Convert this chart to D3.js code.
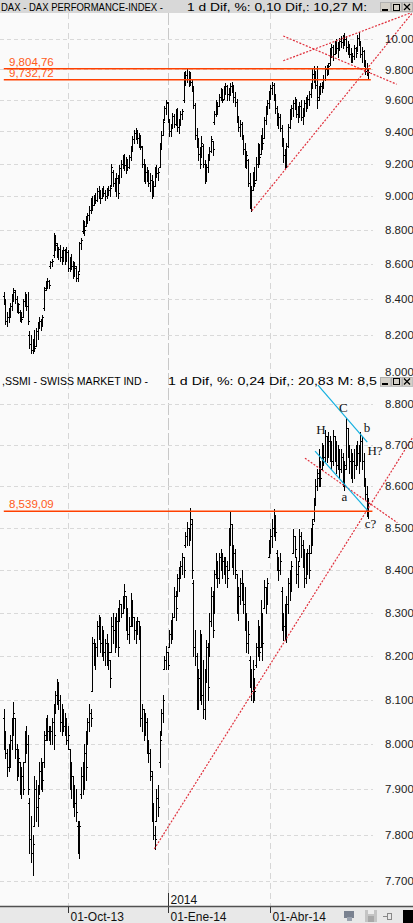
<!DOCTYPE html>
<html>
<head>
<meta charset="utf-8">
<script src="https://cdn.jsdelivr.net/npm/d3@7"></script>
<style>
html,body{margin:0;padding:0;background:#fafafa;}
svg{display:block;}
</style>
</head>
<body>
<svg id="chart" width="413" height="923"></svg>
<script>
// ---- DAX daily bars (open / high / low / close) ----
const daxHigh = [
8440,8400,8330,8350,8380,8430,8460,8450,8420,8380,
8340,8330,8400,8440,8430,8440,8220,8200,8180,8230,
8240,8270,8300,8290,8310,8470,8500,8520,8510,8620,
8630,8780,8770,8720,8700,8710,8680,8700,8690,8700,
8680,8640,8660,8620,8610,8590,8560,8730,8750,8860,
8850,8880,8900,8940,8990,9000,9010,9020,9050,9060,
9040,9050,9060,9040,9050,9060,9070,9200,9160,9110,
9140,9130,9190,9220,9250,9260,9240,9230,9250,9310,
9370,9410,9420,9410,9390,9380,9310,9230,9200,9180,
9160,9140,9130,9090,9180,9190,9170,9330,9400,9480,
9560,9600,9590,9480,9450,9520,9510,9540,9550,9480,
9530,9540,9780,9790,9800,9790,9780,9740,9690,9580,
9420,9360,9300,9370,9320,9220,9200,9260,9300,9370,
9340,9530,9600,9590,9640,9680,9670,9690,9710,9700,
9680,9710,9720,9700,9650,9610,9500,9470,9460,9370,
9330,9280,9230,9140,9060,9150,9180,9240,9330,9320,
9380,9420,9490,9560,9600,9660,9700,9720,9710,9640,
9560,9520,9510,9440,9360,9290,9330,9450,9540,9570,
9600,9620,9610,9560,9590,9600,9550,9600,9620,9630,
9660,9710,9800,9820,9790,9820,9690,9710,9720,9760,
9820,9830,9840,9940,9970,9960,9990,10000,9980,10010,
10020,10030,10045,10020,9990,9970,9940,9910,9960,9950,
10030,10050,9990,9950,9930,9860,9840,9810];
const daxLow = [
8370,8260,8250,8270,8300,8340,8390,8380,8330,8320,
8280,8270,8300,8360,8340,8260,8130,8100,8100,8110,
8140,8180,8240,8230,8250,8340,8450,8460,8460,8580,
8590,8640,8680,8640,8630,8620,8600,8620,8600,8620,
8560,8560,8570,8520,8530,8500,8500,8560,8690,8780,
8770,8820,8840,8860,8900,8920,8950,8960,8970,8990,
8960,8990,9000,8980,8990,9010,9000,9060,9060,9030,
9000,8990,9080,9120,9170,9160,9140,9160,9170,9220,
9280,9330,9350,9330,9300,9290,9180,9090,9080,9090,
9060,9030,8990,9000,9060,9120,9100,9180,9290,9380,
9470,9510,9460,9370,9370,9420,9430,9440,9400,9390,
9440,9480,9590,9700,9720,9690,9700,9660,9550,9350,
9300,9220,9170,9240,9180,9080,9090,9150,9220,9270,
9250,9450,9500,9510,9560,9600,9590,9610,9640,9600,
9600,9630,9650,9590,9560,9460,9400,9370,9350,9260,
9180,9170,9060,8930,8910,9040,9060,9100,9180,9200,
9260,9290,9360,9450,9510,9550,9610,9640,9600,9520,
9440,9420,9400,9310,9210,9170,9180,9300,9420,9480,
9500,9540,9490,9460,9490,9470,9450,9500,9530,9550,
9570,9620,9680,9720,9680,9550,9600,9640,9650,9680,
9730,9760,9770,9830,9880,9860,9900,9910,9880,9930,
9950,9940,9960,9920,9900,9880,9850,9850,9870,9880,
9920,9960,9880,9850,9820,9770,9760,9740];
const daxOpen = [
8420,8390,8280,8300,8340,8360,8410,8440,8400,8350,
8330,8300,8300,8390,8420,8360,8200,8150,8120,8170,
8140,8220,8250,8280,8260,8350,8460,8490,8500,8590,
8610,8650,8700,8710,8660,8690,8640,8660,8680,8630,
8670,8580,8620,8590,8540,8580,8520,8560,8720,8790,
8840,8820,8860,8890,8920,8970,8950,9000,8980,9030,
9010,8990,9040,9020,9000,9030,9040,9060,9150,9080,
9050,9110,9090,9170,9200,9230,9190,9220,9180,9240,
9290,9350,9390,9400,9360,9340,9300,9200,9110,9150,
9120,9080,9100,9010,9060,9160,9140,9180,9310,9380,
9470,9550,9580,9470,9400,9430,9500,9450,9520,9430,
9460,9510,9600,9730,9760,9740,9770,9720,9680,9570,
9380,9330,9260,9240,9310,9200,9120,9180,9230,9280,
9340,9460,9510,9580,9560,9620,9650,9610,9670,9690,
9640,9660,9690,9700,9620,9590,9480,9430,9450,9360,
9290,9200,9220,9080,9000,9040,9120,9100,9200,9300,
9260,9350,9360,9470,9540,9580,9640,9680,9700,9620,
9550,9460,9490,9420,9340,9250,9200,9310,9430,9520,
9550,9580,9600,9510,9540,9560,9490,9530,9580,9600,
9610,9640,9690,9770,9740,9700,9620,9670,9690,9710,
9740,9800,9790,9840,9920,9950,9900,9970,9940,9960,
9990,9980,10010,10000,9950,9930,9900,9870,9890,9940,
9920,10010,9980,9900,9920,9840,9790,9800];
const daxClose = [
8390,8280,8300,8340,8360,8410,8450,8400,8350,8370,
8300,8290,8390,8420,8360,8280,8150,8120,8170,8130,
8220,8240,8280,8260,8300,8450,8490,8500,8480,8610,
8620,8700,8720,8660,8690,8640,8660,8680,8620,8670,
8580,8620,8590,8540,8590,8520,8540,8720,8740,8840,
8800,8860,8890,8920,8970,8950,9000,8980,9030,9010,
8990,9040,9020,9000,9030,9040,9050,9180,9080,9050,
9110,9020,9170,9200,9230,9190,9220,9180,9240,9290,
9350,9390,9400,9360,9340,9310,9200,9110,9150,9120,
9080,9100,9010,9060,9160,9140,9150,9310,9380,9460,
9550,9590,9480,9400,9430,9500,9450,9520,9430,9460,
9510,9530,9730,9760,9740,9770,9720,9690,9570,9380,
9330,9260,9200,9330,9200,9120,9180,9230,9280,9350,
9290,9510,9580,9560,9620,9660,9600,9670,9690,9640,
9660,9690,9700,9620,9590,9480,9430,9450,9380,9290,
9200,9250,9080,9000,9040,9120,9080,9200,9300,9240,
9350,9330,9470,9540,9580,9640,9680,9700,9620,9550,
9460,9490,9420,9340,9250,9200,9310,9430,9520,9550,
9580,9600,9510,9540,9560,9490,9530,9580,9600,9610,
9640,9690,9770,9740,9700,9600,9670,9690,9710,9740,
9800,9790,9820,9920,9950,9900,9970,9940,9960,9990,
9980,10010,10000,9950,9930,9900,9870,9890,9940,9910,
10010,9990,9900,9920,9840,9790,9800,9780];

// ---- SMI daily bars (open / high / low / close) ----
const ssmiHigh = [
8080,8030,7990,8000,8020,8060,8095,8060,8000,7990,
7960,7950,7960,8030,8040,8020,7880,7840,7800,7930,
7920,7910,7960,7970,7960,8030,8060,8065,8040,8040,
8060,8090,8120,8147,8140,8110,8090,8080,8070,8060,
8040,7990,7960,7930,7910,7900,7830,7830,7950,7960,
8000,8030,8060,8090,8080,8245,8240,8230,8280,8295,
8290,8270,8260,8240,8250,8230,8190,8290,8300,8290,
8300,8310,8330,8320,8340,8367,8340,8310,8290,8346,
8330,8290,8280,8290,8280,8270,8090,8080,8070,8060,
8010,7990,7940,7870,7820,7900,7910,8030,8080,8110,
8200,8222,8210,8260,8284,8300,8360,8350,8390,8407,
8420,8440,8430,8490,8514,8500,8546,8520,8377,8260,
8206,8170,8260,8250,8190,8170,8238,8230,8300,8360,
8350,8400,8440,8420,8440,8450,8440,8430,8430,8420,
8500,8537,8510,8460,8450,8390,8360,8380,8400,8370,
8360,8300,8280,8200,8170,8192,8150,8230,8284,8270,
8330,8300,8377,8360,8380,8470,8498,8520,8545,8530,
8447,8430,8440,8360,8300,8320,8340,8380,8400,8420,
8498,8480,8430,8420,8498,8490,8470,8450,8440,8450,
8460,8500,8521,8570,8616,8640,8690,8660,8705,8700,
8736,8720,8730,8720,8710,8736,8720,8710,8700,8690,
8690,8680,8660,8766,8740,8700,8690,8680,8690,8700,
8710,8700,8731,8720,8680,8620,8600,8570];
const ssmiLow = [
7990,7970,7930,7940,7950,7990,8020,7970,7920,7930,
7890,7880,7890,7960,7980,7890,7760,7740,7712,7820,
7830,7820,7890,7900,7895,7950,8010,8010,8010,8000,
8000,7990,8070,8090,8080,8030,8020,8030,8020,8000,
7990,7900,7880,7860,7840,7830,7760,7750,7880,7890,
7900,7920,8000,8030,8040,8120,8180,8170,8200,8240,
8210,8200,8190,8180,8180,8170,8130,8210,8230,8210,
8220,8200,8280,8290,8300,8310,8260,8240,8230,8270,
8270,8240,8230,8250,8240,8040,8030,8010,8020,7980,
7960,7920,7830,7790,7769,7830,7840,7950,8020,8050,
8170,8170,8170,8220,8230,8240,8290,8284,8340,8350,
8380,8390,8384,8455,8460,8460,8471,8380,8200,8180,
8080,8079,8100,8090,8060,8057,8140,8100,8200,8270,
8245,8300,8380,8360,8370,8400,8380,8390,8370,8360,
8400,8460,8407,8390,8380,8300,8284,8320,8330,8300,
8260,8210,8206,8130,8100,8095,8100,8176,8200,8190,
8220,8190,8310,8300,8320,8430,8440,8455,8480,8470,
8400,8377,8390,8260,8238,8240,8233,8300,8330,8350,
8440,8430,8370,8360,8420,8430,8407,8360,8370,8390,
8380,8440,8460,8515,8553,8590,8600,8600,8640,8650,
8660,8657,8670,8660,8640,8650,8660,8630,8640,8620,
8633,8600,8590,8640,8670,8630,8620,8610,8620,8640,
8650,8630,8660,8640,8600,8568,8528,8524];
const ssmiOpen = [
8060,8000,7980,7950,7990,8010,8040,8060,7990,7940,
7960,7910,7930,7960,8010,8000,7870,7790,7760,7820,
7900,7860,7890,7940,7950,7960,8020,8050,8030,8020,
8030,8050,8080,8110,8130,8100,8050,8070,8040,8060,
8010,7990,7910,7930,7880,7870,7820,7800,7890,7930,
7910,7980,8010,8050,8070,8120,8230,8200,8220,8270,
8280,8230,8250,8210,8230,8200,8190,8210,8270,8260,
8240,8280,8290,8320,8300,8330,8340,8280,8250,8270,
8330,8290,8260,8250,8280,8260,8060,8080,8030,8050,
8000,7980,7930,7850,7800,7830,7880,7960,8020,8070,
8170,8190,8210,8220,8250,8270,8290,8340,8340,8380,
8400,8410,8430,8460,8480,8500,8480,8510,8370,8220,
8200,8100,8150,8240,8110,8080,8150,8220,8200,8280,
8340,8300,8390,8420,8380,8430,8410,8420,8400,8410,
8400,8480,8510,8430,8440,8390,8320,8340,8370,8350,
8320,8280,8230,8190,8150,8120,8150,8180,8220,8260,
8220,8300,8310,8360,8330,8430,8460,8480,8500,8530,
8440,8410,8400,8350,8280,8270,8300,8320,8370,8390,
8440,8480,8430,8390,8420,8480,8460,8430,8380,8420,
8440,8440,8490,8520,8560,8600,8620,8670,8640,8690,
8670,8720,8680,8710,8690,8660,8720,8680,8650,8690,
8640,8670,8620,8650,8740,8690,8660,8640,8660,8650,
8690,8680,8660,8710,8660,8610,8580,8540];
const ssmiClose = [
8000,7980,7950,7990,8010,8040,8070,7990,7940,7970,
7910,7930,7900,8010,8000,7900,7790,7760,7780,7900,
7860,7880,7940,7950,7920,8010,8050,8030,8020,8030,
8050,8020,8110,8130,8100,8050,8070,8040,8060,8010,
8020,7910,7930,7880,7870,7850,7800,7820,7930,7910,
7980,7950,8050,8070,8060,8230,8200,8220,8270,8280,
8230,8250,8210,8230,8200,8210,8150,8270,8260,8240,
8280,8220,8320,8300,8330,8350,8280,8250,8270,8330,
8290,8260,8250,8280,8260,8060,8080,8030,8050,8000,
7980,7940,7850,7800,7790,7880,7860,8010,8070,8100,
8190,8210,8180,8250,8270,8290,8340,8310,8380,8400,
8410,8430,8400,8480,8500,8470,8520,8400,8220,8200,
8100,8150,8240,8110,8080,8150,8220,8130,8280,8340,
8260,8390,8420,8380,8430,8410,8420,8400,8410,8380,
8480,8510,8430,8440,8400,8320,8340,8370,8350,8320,
8280,8230,8250,8150,8120,8170,8120,8220,8260,8210,
8300,8230,8360,8330,8370,8460,8480,8500,8530,8490,
8410,8400,8420,8280,8270,8300,8320,8370,8390,8410,
8480,8450,8390,8410,8480,8460,8430,8380,8420,8440,
8400,8490,8510,8560,8600,8630,8670,8620,8690,8670,
8720,8680,8710,8690,8660,8720,8680,8650,8690,8640,
8670,8620,8640,8740,8690,8660,8640,8660,8650,8690,
8680,8660,8710,8660,8620,8580,8540,8560];

// ---- axis ticks and labels ----
const daxTicks = [8000,8200,8400,8600,8800,9000,9200,9400,9600,9800,10000];
const ssmiTicks = [7700,7800,7900,8000,8100,8200,8300,8400,8500,8600,8700,8800];
const dateTickIdx = [40, 102, 166];
const dateTickLabels = ["01-Oct-13", "01-Ene-14", "01-Abr-14"];
const yearLabel = "2014";
const yearIdx = 102;

// ---- reference levels (value) ----
const daxLevels = [9804.76, 9732.72];
const ssmiLevels = [8539.09];

// ---- trend lines: [barIndex, value] endpoints ----
const daxTrends = [
  [[154.4, 8913], [254.8, 10185]],
  [[174.0, 9857], [254.8, 10185]],
  [[174.0, 10022], [244.6, 9703]]
];
const ssmiRedTrends = [
  [[93.7, 7769], [254.8, 8719]],
  [[187.5, 8667], [245.0, 8512]]
];
const ssmiChannel = [
  [[195.6, 8846], [226.3, 8706]],
  [[193.8, 8684], [226.3, 8542]]
];
// wave labels: [text, barIndex, value]
const ssmiWaveLabels = [
  ["C", 211.4, 8791], ["H", 197.5, 8737], ["b", 226.2, 8743],
  ["H?", 231.1, 8685], ["a", 212.1, 8575], ["c?", 228.3, 8510]
];

// ---- titles ----
const daxTitle = ["DAX - DAX PERFORMANCE-INDEX -", "1 d Dif, %: 0,10 Dif,: 10,27 M:"];
const ssmiTitle = [",SSMI - SWISS MARKET IND -", "1 d Dif, %: 0,24 Dif,: 20,83 M: 8,5"];

const FONT = "'Liberation Sans', Arial, sans-serif";
const svg = d3.select("#chart");
const W = 413, Hh = 923;

const x = d3.scaleLinear().domain([0, 227]).range([3.8, 368.4]);
const yDax = d3.scaleLog().domain([8000, 10000]).range([371.8, 39.3]);
const ySsmi = d3.scaleLog().domain([7700, 8800]).range([880.8, 403.8]);

const axisFmt = d3.formatLocale({decimal: ",", thousands: ".", grouping: [3], currency: ["", ""]}).format(",");
const levelFmt = d3.formatLocale({decimal: ",", thousands: ",", grouping: [3], currency: ["", ""]}).format(",.2f");

svg.append("rect").attr("width", W).attr("height", Hh).attr("fill", "#fafafa");

// vertical date grid
const vg = svg.append("g");
vg.selectAll("line").data(dateTickIdx).join("line")
  .attr("x1", d => Math.round(x(d)) + 0.5).attr("x2", d => Math.round(x(d)) + 0.5)
  .attr("y1", 13).attr("y2", 906)
  .attr("stroke", d => d === yearIdx ? "#c8c8c8" : "#d6d6d6")
  .attr("stroke-dasharray", d => d === yearIdx ? "12,3" : "6,4");

// horizontal value grids
function hGrid(ticks, y) {
  svg.append("g").selectAll("line").data(ticks).join("line")
    .attr("x1", 0).attr("x2", 373)
    .attr("y1", d => Math.round(y(d)) + 0.5).attr("y2", d => Math.round(y(d)) + 0.5)
    .attr("stroke", "#d9d9d9").attr("stroke-dasharray", "4,3");
}
hGrid(daxTicks.filter(d => d > 8000), yDax);
hGrid(ssmiTicks, ySsmi);

// OHLC bars
function drawBars(y, O, H, L, C) {
  const g = svg.append("g").attr("fill", "#000").attr("shape-rendering", "crispEdges");
  const idx = d3.range(H.length);
  g.selectAll("rect.hl").data(idx).join("rect").attr("class", "hl")
    .attr("x", i => Math.round(x(i))).attr("y", i => Math.round(y(H[i])))
    .attr("width", 1)
    .attr("height", i => Math.max(1, Math.round(y(L[i])) - Math.round(y(H[i])) + 1));
  g.selectAll("rect.o").data(idx).join("rect").attr("class", "o")
    .attr("x", i => Math.round(x(i)) - 1).attr("y", i => Math.round(y(O[i])))
    .attr("width", 1).attr("height", 1);
  g.selectAll("rect.c").data(idx).join("rect").attr("class", "c")
    .attr("x", i => Math.round(x(i)) + 1).attr("y", i => Math.round(y(C[i])))
    .attr("width", 1).attr("height", 1);
}
drawBars(yDax, daxOpen, daxHigh, daxLow, daxClose);
drawBars(ySsmi, ssmiOpen, ssmiHigh, ssmiLow, ssmiClose);

// reference levels
function drawLevels(levels, y, endIdx) {
  const g = svg.append("g");
  g.selectAll("line").data(levels).join("line")
    .attr("x1", x(0)).attr("x2", x(endIdx))
    .attr("y1", d => y(d)).attr("y2", d => y(d))
    .attr("stroke", "#ff4000").attr("stroke-width", 1.5);
  g.selectAll("text").data(levels).join("text")
    .attr("x", 9).attr("y", d => y(d) - 3)
    .attr("fill", "#ff5a1a").attr("font-family", FONT).attr("font-size", 11.5)
    .text(d => levelFmt(d));
}
drawLevels(daxLevels, yDax, 228.5);
drawLevels(ssmiLevels, ySsmi, 229.5);

// trend lines
function drawTrends(lines, y, color, dash) {
  svg.append("g").selectAll("line").data(lines).join("line")
    .attr("x1", d => x(d[0][0])).attr("y1", d => y(d[0][1]))
    .attr("x2", d => x(d[1][0])).attr("y2", d => y(d[1][1]))
    .attr("stroke", color).attr("stroke-width", 1.2)
    .attr("stroke-dasharray", dash);
}
drawTrends(daxTrends, yDax, "#e0303c", "2,1.5");
drawTrends(ssmiRedTrends, ySsmi, "#e0303c", "2,1.5");
drawTrends(ssmiChannel, ySsmi, "#14b0e0", null);

svg.append("g").selectAll("text").data(ssmiWaveLabels).join("text")
  .attr("x", d => x(d[1])).attr("y", d => ySsmi(d[2]))
  .attr("text-anchor", "middle").attr("dominant-baseline", "central")
  .attr("font-family", "'Liberation Serif', 'Times New Roman', serif")
  .attr("font-size", 13).attr("fill", "#111")
  .text(d => d[0]);

// price axes labels
function yLabels(ticks, y) {
  svg.append("g").selectAll("text").data(ticks).join("text")
    .attr("x", 385).attr("y", d => y(d)).attr("dy", "0.36em")
    .attr("font-family", FONT).attr("font-size", 11.5).attr("fill", "#222")
    .text(d => axisFmt(d));
}
yLabels(daxTicks, yDax);
yLabels(ssmiTicks, ySsmi);

// window buttons
function buttons(top) {
  const g = svg.append("g").attr("shape-rendering", "crispEdges");
  [380, 391, 402].forEach((bx, k) => {
    g.append("rect").attr("x", bx).attr("y", top).attr("width", 10).attr("height", 9)
      .attr("fill", "#d4d0c8").attr("stroke", "#9a9a9a").attr("stroke-width", 0.6);
    if (k === 0) g.append("rect").attr("x", bx + 2).attr("y", top + 6).attr("width", 6).attr("height", 2).attr("fill", "#000");
    if (k === 1) g.append("rect").attr("x", bx + 2).attr("y", top + 1.5).attr("width", 6).attr("height", 6)
      .attr("fill", "none").attr("stroke", "#000").attr("stroke-width", 1);
    if (k === 2) g.append("path").attr("d", `M${bx + 2},${top + 1.5}L${bx + 8},${top + 7.5}M${bx + 8},${top + 1.5}L${bx + 2},${top + 7.5}`)
      .attr("stroke", "#000").attr("stroke-width", 1.3).attr("shape-rendering", "auto");
  });
}

// DAX header
svg.append("rect").attr("x", 0).attr("y", 0).attr("width", W).attr("height", 13).attr("fill", "#d8d8d8");
svg.append("text").attr("x", 1).attr("y", 10.5).attr("font-family", FONT).attr("font-size", 11)
  .attr("textLength", 162).attr("lengthAdjust", "spacingAndGlyphs").text(daxTitle[0]);
svg.append("text").attr("x", 187).attr("y", 10.5).attr("font-family", FONT).attr("font-size", 11)
  .attr("textLength", 180).attr("lengthAdjust", "spacingAndGlyphs").text(daxTitle[1]);
buttons(2.5);

// SMI header
svg.append("text").attr("x", 2).attr("y", 385).attr("font-family", FONT).attr("font-size", 11)
  .attr("textLength", 146).attr("lengthAdjust", "spacingAndGlyphs").text(ssmiTitle[0]);
svg.append("text").attr("x", 168).attr("y", 385).attr("font-family", FONT).attr("font-size", 11)
  .attr("textLength", 209).attr("lengthAdjust", "spacingAndGlyphs").text(ssmiTitle[1]);
buttons(377);

// date axis
svg.append("rect").attr("x", 0).attr("y", 906).attr("width", W).attr("height", 17).attr("fill", "#e8e8e8");
svg.append("line").attr("x1", 0).attr("x2", W).attr("y1", 906.5).attr("y2", 906.5)
  .attr("stroke", "#505050").attr("stroke-width", 1.6);
const xa = svg.append("g");
xa.selectAll("line").data(dateTickIdx).join("line")
  .attr("x1", d => Math.round(x(d)) + 0.5).attr("x2", d => Math.round(x(d)) + 0.5)
  .attr("y1", 907).attr("y2", 913).attr("stroke", "#333");
xa.selectAll("text").data(dateTickIdx).join("text")
  .attr("x", d => Math.round(x(d)) + 2.5).attr("y", 921)
  .attr("font-family", FONT).attr("font-size", 12).attr("fill", "#111")
  .text((d, i) => dateTickLabels[i]);
svg.append("line").attr("x1", Math.round(x(yearIdx)) + 0.5).attr("x2", Math.round(x(yearIdx)) + 0.5)
  .attr("y1", 893).attr("y2", 906).attr("stroke", "#333");
svg.append("text").attr("x", Math.round(x(yearIdx)) + 2.5).attr("y", 904)
  .attr("font-family", FONT).attr("font-size", 12).attr("fill", "#111").text(yearLabel);

// toolbar icons
const tb = svg.append("g").attr("shape-rendering", "crispEdges");
tb.append("rect").attr("x", 344).attr("y", 911).attr("width", 10).attr("height", 7).attr("fill", "#7a8290");
tb.append("rect").attr("x", 347).attr("y", 917).attr("width", 5).attr("height", 4).attr("fill", "#9aa2ae");
tb.append("rect").attr("x", 365).attr("y", 910).attr("width", 12).attr("height", 12).attr("fill", "#c4c4c4");
tb.append("rect").attr("x", 368).attr("y", 910).attr("width", 6).attr("height", 4).attr("fill", "#ececec");
tb.append("rect").attr("x", 368).attr("y", 916).attr("width", 6).attr("height", 6).attr("fill", "#a8a8a8");
tb.append("rect").attr("x", 383).attr("y", 916).attr("width", 4).attr("height", 1).attr("fill", "#888");
tb.append("rect").attr("x", 387).attr("y", 913).attr("width", 4).attr("height", 6).attr("fill", "none").attr("stroke", "#888");
tb.append("rect").attr("x", 403).attr("y", 910).attr("width", 10).attr("height", 13).attr("fill", "#000");
</script>
</body>
</html>
